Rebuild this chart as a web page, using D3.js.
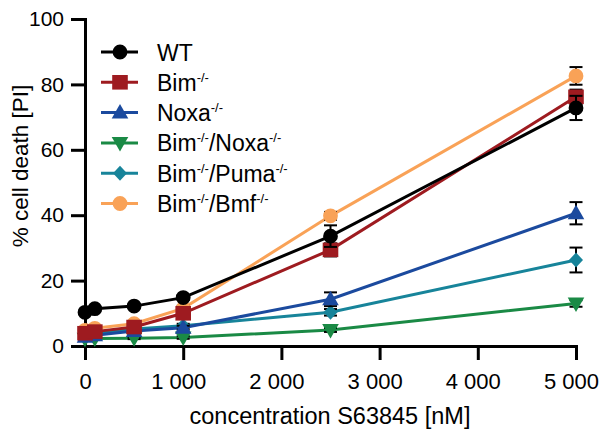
<!DOCTYPE html>
<html>
<head>
<meta charset="utf-8">
<script src="https://cdn.jsdelivr.net/npm/d3@7"></script>
<style>
  html, body { margin: 0; padding: 0; background: #fff; }
  svg { display: block; font-family: "Liberation Sans", Arial, sans-serif; }
</style>
</head>
<body>
<svg id="chart" width="603" height="436"></svg>
<script>
// S63845 concentrations (nM)
const concentrations = [0, 100, 500, 1000, 2500, 5000];

// % cell death (PI) per genotype
const seriesNames = ["WT", "Bim", "Noxa", "Bim/Noxa", "Bim/Puma", "Bim/Bmf"];
const wtValues      = [10.3, 11.4, 12.2, 14.8, 33.6, 72.8];
const bimValues     = [3.9, 4.4, 5.8, 10.0, 29.4, 76.2];
const noxaValues    = [2.8, 3.3, 4.6, 5.6, 14.3, 40.6];
const bimNoxaValues = [2.2, 2.3, 2.4, 2.6, 4.9, 13.0];
const bimPumaValues = [3.5, 3.9, 5.2, 6.2, 10.3, 26.3];
const bimBmfValues  = [4.8, 5.4, 6.8, 11.5, 39.8, 82.6];

// SEM per point
const wtErr      = [0.6, 0.5, 0.6, 0.7, 3.3, 3.7];
const bimErr     = [0.5, 0.5, 0.6, 0.8, 2.0, 2.2];
const noxaErr    = [0.4, 0.4, 0.5, 0.6, 2.1, 3.4];
const bimNoxaErr = [0.3, 0.3, 0.3, 0.4, 0.6, 1.0];
const bimPumaErr = [0.4, 0.4, 0.5, 0.6, 1.0, 3.8];
const bimBmfErr  = [0.5, 0.5, 0.6, 0.8, 1.2, 2.7];

const yTicks = [0, 20, 40, 60, 80, 100];
const xTicks = [0, 1000, 2000, 3000, 4000, 5000];
const xTickLabels = ["0", "1 000", "2 000", "3 000", "4 000", "5 000"];

const colors  = ["#000000", "#9e1b20", "#1b4a9e", "#1a8a45", "#17849a", "#f9a257"];
const shapes  = ["circle", "square", "triangleUp", "triangleDown", "diamond", "circle"];
const values  = [wtValues, bimValues, noxaValues, bimNoxaValues, bimPumaValues, bimBmfValues];
const errors  = [wtErr, bimErr, noxaErr, bimNoxaErr, bimPumaErr, bimBmfErr];
// legend label parts: [text, superscript] pairs
const legendParts = [
  [["WT", ""]],
  [["Bim", "-/-"]],
  [["Noxa", "-/-"]],
  [["Bim", "-/-"], ["/Noxa", "-/-"]],
  [["Bim", "-/-"], ["/Puma", "-/-"]],
  [["Bim", "-/-"], ["/Bmf", "-/-"]]
];

const svg = d3.select("#chart");
const x = d3.scaleLinear().domain([0, 5000]).range([85, 576]);
const y = d3.scaleLinear().domain([0, 100]).range([346, 19]);

function markerPath(shape) {
  switch (shape) {
    case "circle": return "M7.4,0A7.4,7.4 0 1,1 -7.4,0A7.4,7.4 0 1,1 7.4,0Z";
    case "square": return "M-7.8,-7.3H7.8V7.3H-7.8Z";
    case "triangleUp": return "M0,-8.5L8.3,6L-8.3,6Z";
    case "triangleDown": return "M0,8.5L8.3,-6L-8.3,-6Z";
    case "diamond": return "M0,-7.5L7,0L0,7.5L-7,0Z";
  }
}

// axes
const yAxis = d3.axisLeft(y).tickValues(yTicks).tickSize(14).tickSizeOuter(0).tickPadding(7);
const xAxis = d3.axisBottom(x).tickValues(xTicks).tickSize(14).tickSizeOuter(0).tickPadding(13)
  .tickFormat((d, i) => xTickLabels[i]);

const gy = svg.append("g").attr("transform", "translate(85,0)").call(yAxis);
const gx = svg.append("g").attr("transform", "translate(0,346)").call(xAxis);
[gx, gy].forEach(g => {
  g.select(".domain").attr("stroke-width", 3).attr("stroke-linecap", "square");
  g.selectAll(".tick line").attr("stroke-width", 3);
  g.selectAll(".tick text").attr("font-size", 21).attr("fill", "#000")
    .attr("font-family", "Liberation Sans, Arial, sans-serif");
});
gx.selectAll(".tick text")
  .attr("font-size", 22)
  .style("white-space", "pre")
  .attr("dx", d => d === 0 ? 0 : -5);

// axis titles
svg.append("text")
  .attr("x", 330).attr("y", 424)
  .attr("text-anchor", "middle").attr("font-size", 23.5)
  .text("concentration S63845 [nM]");
svg.append("text")
  .attr("transform", "translate(28,166) rotate(-90)")
  .attr("text-anchor", "middle").attr("font-size", 22.5)
  .text("% cell death [PI]");

// series, drawn back to front
const plot = svg.append("g");
const line = d3.line().x((d, i) => x(concentrations[i])).y(d => y(d));
for (let s = seriesNames.length - 1; s >= 0; s--) {
  const g = plot.append("g").attr("class", "series");
  g.append("path")
    .attr("d", line(values[s]))
    .attr("fill", "none").attr("stroke", colors[s]).attr("stroke-width", 3);
  const pts = values[s].map((v, i) => ({ x: concentrations[i], v, e: errors[s][i] }));
  const eb = g.selectAll("g.err").data(pts).join("g").attr("class", "err")
    .attr("stroke", "#000").attr("stroke-width", 2);
  eb.append("line")
    .attr("x1", d => x(d.x)).attr("x2", d => x(d.x))
    .attr("y1", d => y(d.v - d.e)).attr("y2", d => y(d.v + d.e));
  eb.append("line")
    .attr("x1", d => x(d.x) - 6.5).attr("x2", d => x(d.x) + 6.5)
    .attr("y1", d => y(d.v + d.e)).attr("y2", d => y(d.v + d.e));
  eb.append("line")
    .attr("x1", d => x(d.x) - 6.5).attr("x2", d => x(d.x) + 6.5)
    .attr("y1", d => y(d.v - d.e)).attr("y2", d => y(d.v - d.e));
  g.selectAll("path.mk").data(pts).join("path").attr("class", "mk")
    .attr("d", markerPath(shapes[s]))
    .attr("transform", d => `translate(${x(d.x)},${y(d.v)})`)
    .attr("fill", colors[s]);
}

// legend
const legend = svg.append("g");
seriesNames.forEach((name, i) => {
  const ry = 52 + i * 30.3;
  const row = legend.append("g").attr("transform", `translate(0,${ry})`);
  row.append("line").attr("x1", 101).attr("x2", 138).attr("y1", 0).attr("y2", 0)
    .attr("stroke", colors[i]).attr("stroke-width", 3);
  row.append("path").attr("d", markerPath(shapes[i]))
    .attr("transform", "translate(120,0)").attr("fill", colors[i]);
  const t = row.append("text").attr("x", 157).attr("y", 8.5).attr("font-size", 23);
  let raised = false;
  legendParts[i].forEach(([main, sup]) => {
    t.append("tspan").attr("dy", raised ? 9 : 0).text(main);
    raised = false;
    if (sup) {
      t.append("tspan").attr("font-size", 13).attr("dy", -9).text(sup);
      raised = true;
    }
  });
});
</script>
</body>
</html>
